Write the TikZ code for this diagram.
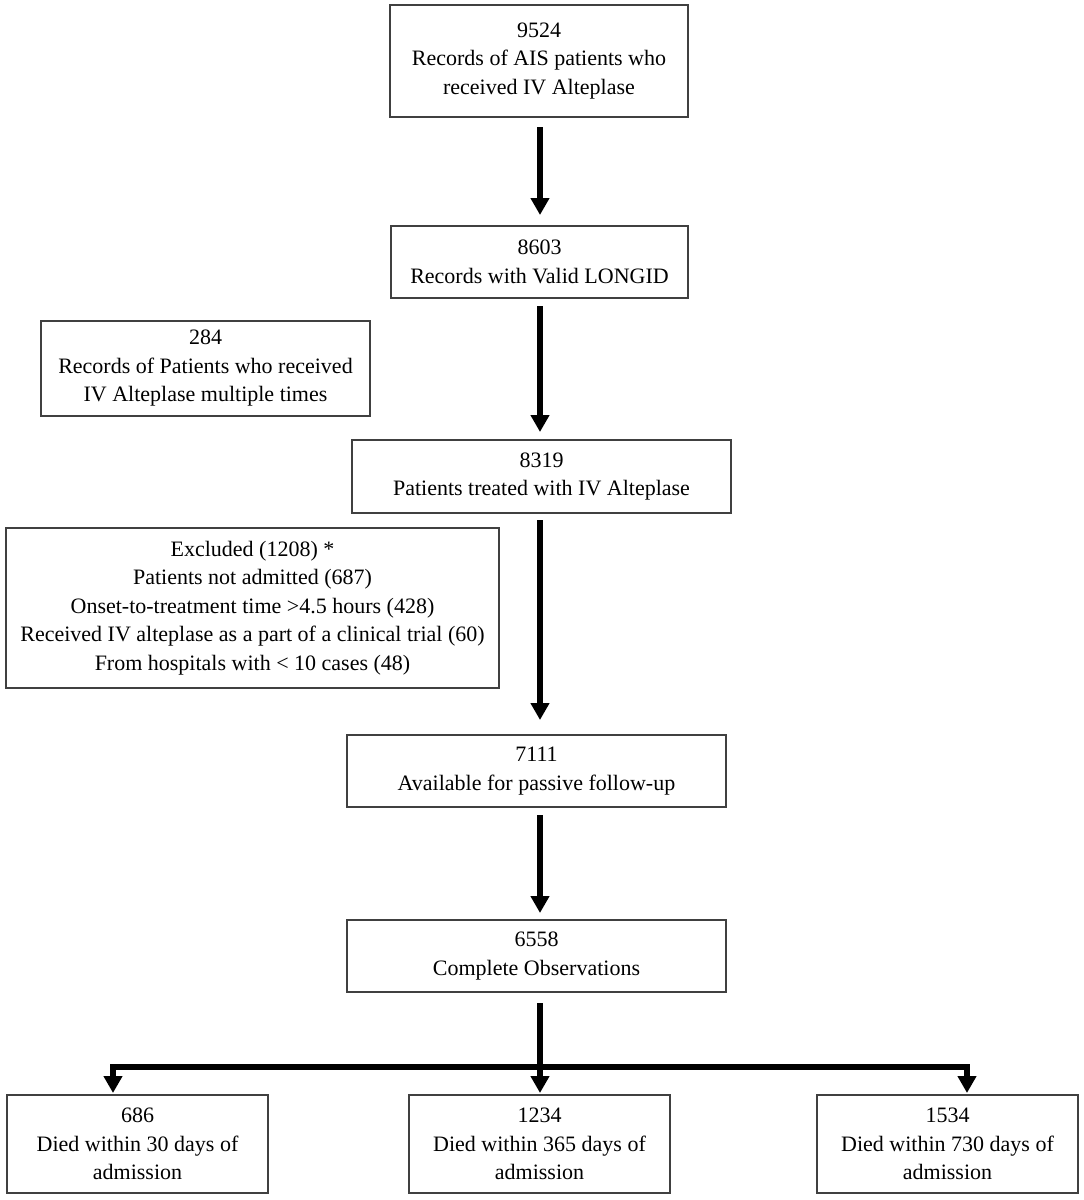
\documentclass[tikz,border=0pt]{standalone}
\usepackage{fontspec}
\setmainfont{Liberation Serif}
\usetikzlibrary{arrows.meta,calc}
\begin{document}
\begin{tikzpicture}[x=1pt,y=-1pt,
  box/.style={draw=black!75,line width=1.3pt,rectangle,align=center,inner sep=0pt,
    font=\fontsize{22}{28.5}\selectfont},
  arr/.style={line width=6pt,-{Triangle[width=18pt,length=17pt]}},
  bar/.style={line width=6pt}]
\fill[white] (0,0) rectangle (1084,1200);
\useasboundingbox (0,0) rectangle (1084,1200);
\node[box,minimum width=298,minimum height=112] (b1) at (539,61) {9524\\Records of AIS patients who\\received IV Alteplase};
\node[box,minimum width=297,minimum height=72] (b2) at (539.5,262) {8603\\Records with Valid LONGID};
\node[box,minimum width=329,minimum height=95] (s1) at (205.5,368.5) {284\\Records of Patients who received\\IV Alteplase multiple times};
\node[box,minimum width=379,minimum height=73] (b3) at (541.5,476.5) {8319\\Patients treated with IV Alteplase};
\node[box,minimum width=493,minimum height=160] (s2) at (252.5,608) {Excluded (1208) *\\Patients not admitted (687)\\Onset-to-treatment time >4.5 hours (428)\\Received IV alteplase as a part of a clinical trial (60)\\From hospitals with < 10 cases (48)};
\node[box,minimum width=379,minimum height=72] (b4) at (536.5,771) {7111\\Available for passive follow-up};
\node[box,minimum width=379,minimum height=72] (b5) at (536.5,956) {6558\\Complete Observations};
\node[box,minimum width=261,minimum height=98] (d1) at (137.5,1144) {686\\Died within 30 days of\\admission};
\node[box,minimum width=261,minimum height=98] (d2) at (539.5,1144) {1234\\Died within 365 days of\\admission};
\node[box,minimum width=261,minimum height=98] (d3) at (947.5,1144) {1534\\Died within 730 days of\\admission};
\coordinate (barL) at (113,1067);
\coordinate (barR) at (967,1067);
\draw[arr] (540,127) -- (540,215);
\draw[arr] (540,306) -- (540,432);
\draw[arr] (540,520) -- (540,720);
\draw[arr] (540,815) -- (540,913);
\draw[bar] ([xshift=-3pt]barL) -- ([xshift=3pt]barR);
\draw[arr] (540,1003) -- (540,1093);
\draw[arr] ([yshift=-3pt]barL) -- (barL |- 0,1093);
\draw[arr] ([yshift=-3pt]barR) -- (barR |- 0,1093);
\end{tikzpicture}
\end{document}
